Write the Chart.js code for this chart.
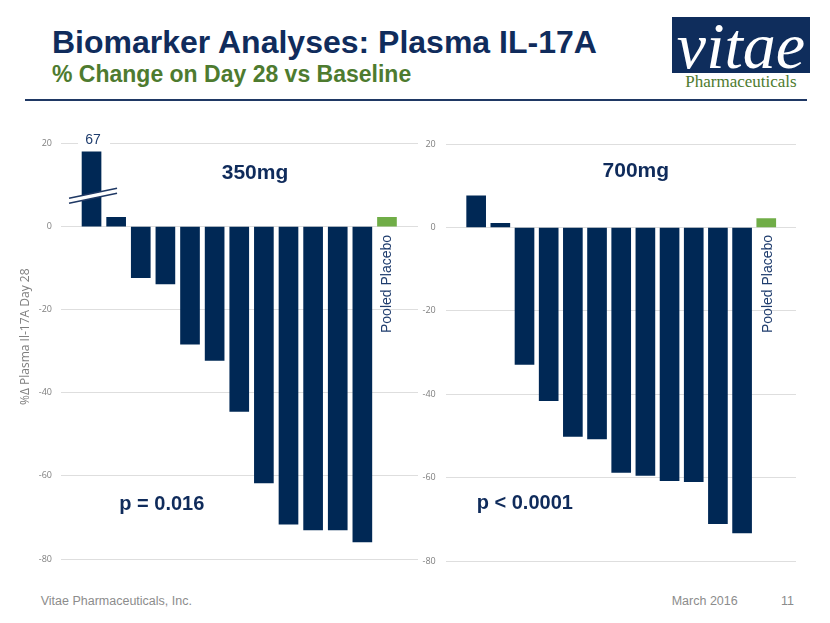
<!DOCTYPE html>
<html><head><meta charset="utf-8">
<script src="https://cdn.jsdelivr.net/npm/chart.js@4"></script>
<style>
html,body{margin:0;padding:0;background:#fff;}
body{width:830px;height:623px;position:relative;overflow:hidden;font-family:"Liberation Sans",Arial,sans-serif;}
.abs{position:absolute;white-space:nowrap;line-height:1;}
canvas{position:absolute;}
</style></head><body>
<div class="abs" style="left:52px;top:25.6px;font-size:32px;font-weight:bold;color:#102c5c;">Biomarker Analyses: Plasma IL-17A</div>
<div class="abs" style="left:52px;top:62.8px;font-size:23px;font-weight:bold;color:#4e7b2f;">% Change on Day 28 vs Baseline</div>
<div style="position:absolute;left:25px;top:99px;width:782px;height:2px;background:#1f3864;"></div>
<div style="position:absolute;left:672px;top:17px;width:138px;height:56px;background:#0f2d5c;overflow:hidden;">
  <div class="abs" style="left:0;width:138px;text-align:center;top:-4.2px;font-family:'Liberation Serif',serif;font-style:italic;font-size:66px;color:#fff;">vitae</div>
</div>
<div class="abs" style="left:672px;width:138px;text-align:center;top:73.1px;font-family:'Liberation Serif',serif;font-size:17px;color:#4e7b2f;">Pharmaceuticals</div>
<div class="abs" style="left:40.7px;top:595.1px;font-size:12.5px;color:#8c8c8c;">Vitae Pharmaceuticals, Inc.</div>
<div class="abs" style="left:671.7px;top:595.1px;font-size:12.5px;color:#8c8c8c;">March 2016</div>
<div class="abs" style="left:781px;top:595.1px;font-size:12.5px;color:#8c8c8c;">11</div>
<canvas id="c1" width="425" height="500" style="left:0;top:100px;"></canvas>
<canvas id="c2" width="420" height="500" style="left:410px;top:100px;"></canvas>
<script>
// ---- data ----
const subjects = ['S1','S2','S3','S4','S5','S6','S7','S8','S9','S10','S11','S12','Pooled Placebo'];
const change350 = [67, 2.2, -12.3, -13.8, -28.3, -32.2, -44.5, -61.7, -71.6, -73.0, -73.0, -75.9, 2.2];
const change700 = [7.6, 1.0, -32.8, -41.5, -50.1, -50.7, -58.7, -59.4, -60.7, -60.9, -71.0, -73.2, 2.1];
const yTickValues = [20, 0, -20, -40, -60, -80];
const doseLabels = ['350mg', '700mg'];
const pValues = ['p = 0.016', 'p < 0.0001'];
const axisBreakCap = 18; // broken-axis display height of the out-of-range bar

const NAVY = '#002855';
const GREEN = '#70ad47';
const TEXTNAVY = '#0f2b5b';

function toPoints(vals) {
  return subjects.map((s, i) => ({ x: i + 1, y: Math.min(vals[i], axisBreakCap), label: s, trueValue: vals[i] }));
}
function colors() {
  return subjects.map(s => s === 'Pooled Placebo' ? GREEN : NAVY);
}

const annot = {
  id: 'annot',
  afterDatasetsDraw(chart, args, o) {
    const ctx = chart.ctx;
    const meta = chart.getDatasetMeta(0);
    const ys = chart.scales.y;
    const vals = o.values;
    ctx.save();
    meta.data.forEach((el, i) => {
      if (vals[i] > axisBreakCap) {
        const cx = el.x + 1.5;
        const ym = ys.getPixelForValue(7.4);
        const y1 = ym - 2.5, y2 = ym + 2.5;
        ctx.fillStyle = '#fff';
        ctx.beginPath();
        ctx.moveTo(cx - 24, y1 + 5); ctx.lineTo(cx + 24, y1 - 5);
        ctx.lineTo(cx + 24, y2 - 5); ctx.lineTo(cx - 24, y2 + 5);
        ctx.closePath(); ctx.fill();
        ctx.strokeStyle = '#1f3864'; ctx.lineWidth = 1.5;
        ctx.beginPath(); ctx.moveTo(cx - 24, y1 + 5); ctx.lineTo(cx + 24, y1 - 5); ctx.stroke();
        ctx.beginPath(); ctx.moveTo(cx - 24, y2 + 5); ctx.lineTo(cx + 24, y2 - 5); ctx.stroke();
        ctx.fillStyle = '#fff';
        ctx.fillRect(cx - 15, el.y - 21, 32, 17);
        ctx.fillStyle = '#1f3d6e';
        ctx.font = '14px "Liberation Sans"';
        ctx.textAlign = 'center'; ctx.textBaseline = 'alphabetic';
        ctx.fillText(String(vals[i]), cx, el.y - 8);
      }
    });
    const last = meta.data[meta.data.length - 1];
    ctx.save();
    ctx.translate(last.x + o.plOff, 233);
    ctx.rotate(-Math.PI / 2);
    ctx.fillStyle = '#1f3d6e';
    ctx.font = '14px "Liberation Sans"';
    ctx.textAlign = 'left'; ctx.textBaseline = 'alphabetic';
    ctx.fillText(subjects[subjects.length - 1], 0, 0);
    ctx.restore();
    ctx.fillStyle = TEXTNAVY;
    ctx.font = 'bold 21px "Liberation Sans"';
    ctx.textAlign = 'center';
    ctx.fillText(o.dose, o.doseX, o.doseY);
    ctx.font = 'bold 20px "Liberation Sans"';
    ctx.textAlign = 'left';
    ctx.fillText(o.p, o.pX, o.pY);
    ctx.restore();
  }
};

function makeChart(id, vals, opt) {
  return new Chart(document.getElementById(id), {
    type: 'bar',
    data: { datasets: [{ data: toPoints(vals), backgroundColor: colors(), barThickness: 19, borderWidth: 0 }] },
    options: {
      responsive: false, animation: false, devicePixelRatio: 1,
      layout: { padding: opt.padding },
      plugins: { legend: { display: false }, tooltip: { enabled: false }, annot: Object.assign({ values: vals }, opt.annot) },
      scales: {
        x: { type: 'linear', display: false, offset: false, min: opt.xmin, max: opt.xmax, grid: { offset: false } },
        y: {
          min: -80, max: opt.ymax,
          afterBuildTicks: s => { s.ticks = s.ticks.filter(t => yTickValues.includes(t.value)); },
          afterFit: s => { s.width = opt.yWidth; },
          ticks: { stepSize: 20, color: '#7f7f7f', font: { family: 'Open Sans', size: 9 }, padding: opt.tickPad },
          grid: { color: '#dedede', drawTicks: false },
          border: { display: false },
          title: opt.title
        }
      }
    },
    plugins: [annot]
  });
}

makeChart('c1', change350, {
  padding: { top: 12.8, bottom: 41, left: 0, right: 7 },
  xmin: -0.24, xmax: 14.26, ymax: 27, yWidth: 61, tickPad: 9,
  title: { display: true, text: '%Δ Plasma Il-17A Day 28', color: '#7f7f7f', font: { family: 'Open Sans', size: 12, lineHeight: 1.2 }, padding: { top: 18, bottom: 0 } },
  annot: { dose: doseLabels[0], doseX: 255, doseY: 79.3, p: pValues[0], pX: 119.3, pY: 410, plOff: 4.5 }
});
makeChart('c2', change700, {
  padding: { top: 44, bottom: 38.7, left: 0, right: 34 },
  xmin: -0.26, xmax: 14.23, ymax: 20, yWidth: 35.7, tickPad: 10,
  title: { display: false },
  annot: { dose: doseLabels[1], doseX: 225.8, doseY: 77.3, p: pValues[1], pX: 66.7, pY: 409.3, plOff: 5.5 }
});
</script>
</body></html>
